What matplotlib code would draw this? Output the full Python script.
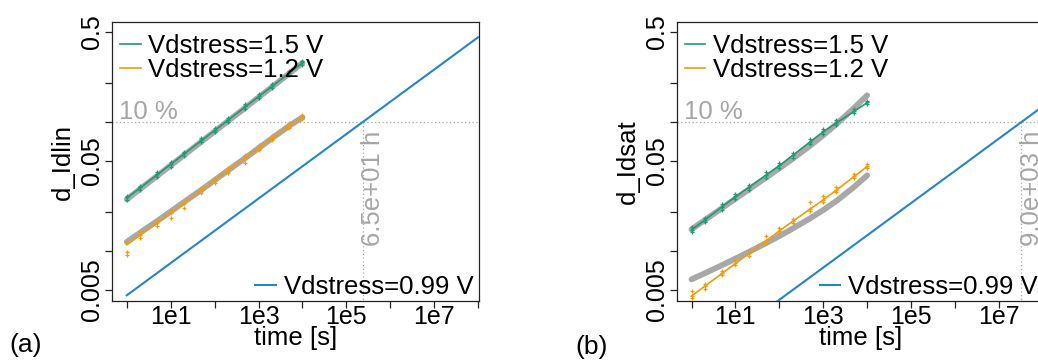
import matplotlib
matplotlib.use("Agg")
import matplotlib.pyplot as plt
import matplotlib.transforms as mtransforms

plt.rcParams['font.family'] = ['Liberation Sans', 'DejaVu Sans']

# ---------------- data ----------------
times = [1, 2, 5, 10, 20, 50, 100, 200, 500, 1000, 2000, 5000, 10000]
blue_times = [1, 1e1, 1e2, 1e3, 1e4, 1e5, 1e6, 1e7, 1e8]

series_labels = ["Vdstress=1.5 V", "Vdstress=1.2 V", "Vdstress=0.99 V"]
panel_letters = ["(a)", "(b)"]
ylabels = ["d_Idlin", "d_Idsat"]
cross_hours = [65, 9000]          # time to reach 10 % for Vdstress=0.99 V
threshold = 0.1

# panel (a)
green_a_line = [0.0258, 0.0309, 0.0393, 0.0472, 0.0566, 0.0719, 0.0862, 0.1034, 0.1314, 0.1576, 0.1890, 0.2401, 0.288]
green_a_fit = [0.0252, 0.0303, 0.0385, 0.0462, 0.0555, 0.0706, 0.0848, 0.1018, 0.1295, 0.1555, 0.1870, 0.2385, 0.288]
green_a_p1 = [0.0270, 0.0322, 0.0410, 0.0495, 0.0590, 0.0750, 0.0905, 0.1080, 0.1380, 0.1650, 0.1960, 0.2500, 0.300]
green_a_p2 = [0.0248, 0.0300, 0.0375, 0.0450, 0.0548, 0.0700, 0.0835, 0.0995, 0.1270, 0.1530, 0.1840, 0.2330, 0.278]
green_a_p3 = [0.0262, 0.0312, 0.0398, 0.0478, 0.0572, 0.0725, 0.0870, 0.1045, 0.1325, 0.1590, 0.1905, 0.2420, 0.292]

orange_a_line = [0.0112, 0.01335, 0.0167, 0.0199, 0.0237, 0.0297, 0.0354, 0.0422, 0.0529, 0.0630, 0.0751, 0.0941, 0.1097]
orange_a_fit = [0.0118, 0.0139, 0.0172, 0.0203, 0.0240, 0.0299, 0.0355, 0.0422, 0.0528, 0.0628, 0.0748, 0.0937, 0.1090]
orange_a_p1 = [0.0117, 0.0140, 0.0174, 0.0208, 0.0247, 0.0310, 0.0370, 0.0440, 0.0555, 0.0660, 0.0785, 0.0980, 0.1140]
orange_a_p2 = [0.0098, 0.0126, 0.0158, 0.0180, 0.0215, 0.0282, 0.0340, 0.0405, 0.0480, 0.0605, 0.0722, 0.0905, 0.1060]
orange_a_p3 = [0.0094, 0.0133, 0.0166, 0.0197, 0.0235, 0.0295, 0.0352, 0.0420, 0.0525, 0.0628, 0.0748, 0.0938, 0.1095]

blue_a = [0.00455, 0.00809, 0.01439, 0.02559, 0.0455, 0.0809, 0.1439, 0.2559, 0.455]

# panel (b)
green_b_line = [0.0146, 0.01745, 0.0221, 0.0264, 0.0312, 0.0389, 0.0460, 0.0552, 0.0703, 0.0844, 0.0986, 0.1212, 0.1416]
green_b_fit = [0.0148, 0.01742, 0.02163, 0.02547, 0.02999, 0.03724, 0.04385, 0.0520, 0.0656, 0.0791, 0.0967, 0.1285, 0.1615]
green_b_p1 = [0.0153, 0.0182, 0.0232, 0.0278, 0.0328, 0.0410, 0.0482, 0.0580, 0.0745, 0.0890, 0.1035, 0.1265, 0.1470]
green_b_p2 = [0.0140, 0.0168, 0.0210, 0.0252, 0.0298, 0.0372, 0.0442, 0.0530, 0.0672, 0.0812, 0.0950, 0.1168, 0.1380]
green_b_p3 = [0.0145, 0.0176, 0.0222, 0.0266, 0.0314, 0.0391, 0.0462, 0.0555, 0.0706, 0.0848, 0.0990, 0.1220, 0.1425]

orange_b_line = [0.00449, 0.00535, 0.00674, 0.00802, 0.00956, 0.01204, 0.01434, 0.0170, 0.0212, 0.0250, 0.0298, 0.0378, 0.0453]
orange_b_fit = [0.00605, 0.006741, 0.007805, 0.008751, 0.009847, 0.01156, 0.01310, 0.01494, 0.01795, 0.02083, 0.02452, 0.03140, 0.0387]
orange_b_p1 = [0.00490, 0.00560, 0.00700, 0.00850, 0.01000, 0.01300, 0.01520, 0.0178, 0.0240, 0.0270, 0.0312, 0.0395, 0.0470]
orange_b_p2 = [0.00430, 0.00510, 0.00650, 0.00780, 0.00920, 0.01160, 0.01380, 0.0164, 0.0205, 0.0242, 0.0290, 0.0368, 0.0440]
orange_b_p3 = [0.00452, 0.00538, 0.00678, 0.00806, 0.00960, 0.01210, 0.01440, 0.0171, 0.0213, 0.0251, 0.0299, 0.0380, 0.0455]

blue_b = [0.00133, 0.00236, 0.0042, 0.00746, 0.01326, 0.0236, 0.0419, 0.0746, 0.1326]

panels = [
    dict(green_line=green_a_line, green_fit=green_a_fit, green_pts=[green_a_p1, green_a_p2, green_a_p3],
         orange_line=orange_a_line, orange_fit=orange_a_fit, orange_pts=[orange_a_p1, orange_a_p2, orange_a_p3],
         blue=blue_a),
    dict(green_line=green_b_line, green_fit=green_b_fit, green_pts=[green_b_p1, green_b_p2, green_b_p3],
         orange_line=orange_b_line, orange_fit=orange_b_fit, orange_pts=[orange_b_p1, orange_b_p2, orange_b_p3],
         blue=blue_b),
]

# ---------------- style ----------------
GREEN = "#1E9A78"
ORANGE = "#F29B0C"
BLUE = "#2586C6"
FITGRAY = "#A8A8A8"
TXTGRAY = "#A6A6A6"
SPINE = "#222222"

W, H = 1038, 362
fig = plt.figure(figsize=(W / 100, H / 100), dpi=100)

ax_lefts = [112, 676.7]
ax_w, ax_top, ax_bot = 367, 22, 301
letter_pos = [(26, 345), (592, 347)]

for i, p in enumerate(panels):
    ax = fig.add_axes([ax_lefts[i] / W, (H - ax_bot) / H, ax_w / W, (ax_bot - ax_top) / H])
    ax.set_xscale('log')
    ax.set_yscale('log')
    ax.set_xlim(0.46, 1.05e8)
    ax.set_ylim(0.00411, 0.598)

    # gray fits
    ax.plot(times, p['green_fit'], color=FITGRAY, lw=4.2, solid_capstyle='round', zorder=2)
    ax.plot(times, p['orange_fit'], color=FITGRAY, lw=4.2, solid_capstyle='round', zorder=2)
    # data points
    for pts in p['green_pts']:
        ax.plot(times, pts, ls='none', marker='+', ms=3.5, mew=0.9, color=GREEN, zorder=3)
    for pts in p['orange_pts']:
        ax.plot(times, pts, ls='none', marker='+', ms=3.5, mew=0.9, color=ORANGE, zorder=3)
    # lines
    lg, = ax.plot(times, p['green_line'], color=GREEN, lw=1.2, zorder=4)
    lo, = ax.plot(times, p['orange_line'], color=ORANGE, lw=1.2, zorder=4)
    lb, = ax.plot(blue_times, p['blue'], color=BLUE, lw=1.5, zorder=4)

    # threshold
    t_cross = cross_hours[i] * 3600
    ax.axhline(threshold, color=TXTGRAY, lw=0.9, ls=(0, (1, 2)), zorder=1)
    ax.plot([t_cross, t_cross], [threshold, 0.00411], color=TXTGRAY, lw=0.9, ls=(0, (1, 2)), zorder=1)
    ax.annotate("10 %", xy=(0, threshold), xycoords=mtransforms.blended_transform_factory(ax.transAxes, ax.transData),
                xytext=(5, 2), textcoords='offset points', color=TXTGRAY, fontsize=18.5,
                ha='left', va='baseline')
    ax.annotate(f"{cross_hours[i]:.1e} h", xy=(t_cross, 0.405),
                xycoords=mtransforms.blended_transform_factory(ax.transData, ax.transAxes),
                xytext=(7.5, 0), textcoords='offset points', color=TXTGRAY, fontsize=18.5,
                rotation=90, ha='center', va='center', annotation_clip=False)

    # ticks
    ax.set_xticks(blue_times)
    ax.set_xticklabels(["", "1e1", "", "1e3", "", "1e5", "", "1e7", ""])
    ax.xaxis.set_minor_locator(matplotlib.ticker.NullLocator())
    yt = [0.005, 0.01, 0.02, 0.05, 0.1, 0.2, 0.5]
    ax.set_yticks(yt)
    ax.set_yticklabels(["0.005", "", "", "0.05", "", "", "0.5"])
    ax.yaxis.set_minor_locator(matplotlib.ticker.NullLocator())
    ax.tick_params(axis='both', which='major', length=4.8, width=0.9, color=SPINE, labelsize=18)
    ax.tick_params(axis='x', pad=-2.0)
    ax.tick_params(axis='y', pad=1.0)
    for lab in ax.get_yticklabels():
        lab.set_rotation(90)
        lab.set_va('center')
    for s in ax.spines.values():
        s.set_color(SPINE)
        s.set_linewidth(0.9)

    ax.set_xlabel("time [s]", fontsize=18.5)
    ax.xaxis.set_label_coords(0.5, -0.088)
    ax.set_ylabel(ylabels[i], fontsize=18.5)
    ax.yaxis.set_label_coords(-0.10, 0.5)

    leg1 = ax.legend([lg, lo], series_labels[:2], loc='upper left', bbox_to_anchor=(0.022, 0.957),
                     frameon=False, fontsize=18.5, handlelength=0.8, handletextpad=0.3,
                     labelspacing=0.0, borderpad=0.0, borderaxespad=0.0)
    ax.add_artist(leg1)
    ax.legend([lb], series_labels[2:], loc='lower right', bbox_to_anchor=(0.984, 0.007),
              frameon=False, fontsize=18.5, handlelength=0.8, handletextpad=0.3,
              borderpad=0.0, borderaxespad=0.0)

    fig.text(letter_pos[i][0] / W, (H - letter_pos[i][1]) / H, panel_letters[i], fontsize=19,
             ha='center', va='center')

fig.savefig("out.png", dpi=100)
